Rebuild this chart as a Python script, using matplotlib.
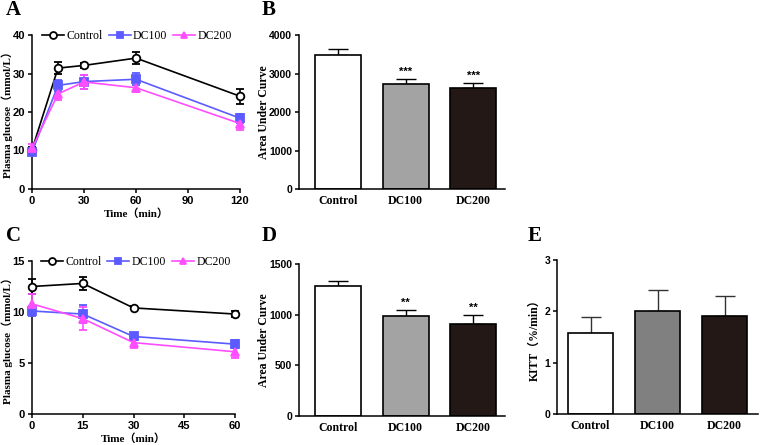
import matplotlib
matplotlib.use("Agg")
import matplotlib.pyplot as plt
from matplotlib.lines import Line2D
import numpy as np

# ---------------- data ----------------
groups = ["Control", "DC100", "DC200"]

ogtt_time = [0, 15, 30, 60, 120]
ogtt_control = [10.2, 31.4, 32.1, 34.0, 24.1]
ogtt_control_err = [0.8, 1.5, 0.7, 1.5, 2.0]
ogtt_dc100 = [9.6, 26.9, 27.9, 28.5, 18.4]
ogtt_dc100_err = [0.8, 1.5, 1.8, 1.6, 1.2]
ogtt_dc200 = [10.6, 24.7, 27.8, 26.3, 17.0]
ogtt_dc200_err = [1.0, 1.6, 1.8, 1.2, 1.7]

ogtt_auc = [3490, 2730, 2615]
ogtt_auc_err = [140, 120, 130]
ogtt_auc_sig = ["", "***", "***"]

itt_time = [0, 15, 30, 60]
itt_control = [12.5, 12.8, 10.4, 9.8]
itt_control_err = [0.75, 0.6, 0.15, 0.3]
itt_dc100 = [10.1, 9.8, 7.6, 6.85]
itt_dc100_err = [0.5, 0.9, 0.3, 0.4]
itt_dc200 = [10.8, 9.35, 7.0, 6.1]
itt_dc200_err = [1.0, 1.1, 0.5, 0.6]

itt_auc = [1280, 990, 905]
itt_auc_err = [52, 56, 92]
itt_auc_sig = ["", "**", "**"]

kitt = [1.57, 2.01, 1.91]
kitt_err = [0.31, 0.41, 0.38]

# ---------------- style ----------------
W, H = 760, 445
fig = plt.figure(figsize=(W / 100, H / 100), dpi=100)

serif = ["Liberation Serif", "Noto Sans CJK SC"]
sans = "Liberation Sans"
c_ctrl = "black"
c_100 = "#5b5bff"
c_200 = "#ff4dff"


def rect(l, t, r, b):
    return [l / W, 1 - b / H, (r - l) / W, (b - t) / H]


def style_axes(ax, tick_size=7.5):
    for s in ["top", "right"]:
        ax.spines[s].set_visible(False)
    for s in ["left", "bottom"]:
        ax.spines[s].set_linewidth(1.1)
    ax.tick_params(direction="out", length=3, width=1.1, pad=2)
    for lab in ax.get_xticklabels() + ax.get_yticklabels():
        lab.set_fontfamily(sans)
        lab.set_fontweight("bold")
        lab.set_fontsize(tick_size)


def line_panel(ax, t, series, xticks, ylim, yticks, xlabel, ylabel, ylab_x, leg_xy):
    specs = [("Control", c_ctrl, "o", "white"),
             ("DC100", c_100, "s", c_100),
             ("DC200", c_200, "^", c_200)]
    handles = []
    for (name, col, mk, fc), (y, e) in zip(specs, series):
        ax.errorbar(t, y, yerr=e, color=col, marker=mk, markersize=5.5,
                    markerfacecolor=fc, markeredgecolor=col, markeredgewidth=1.3,
                    linewidth=1.2, elinewidth=1.2, capsize=3, capthick=1.2,
                    clip_on=False, zorder=3)
        handles.append(Line2D([], [], color=col, marker=mk, markersize=5,
                              markerfacecolor=fc, markeredgecolor=col,
                              markeredgewidth=1.3, linewidth=1.2, label=name))
    ax.set_xlim(t[0], t[-1])
    ax.set_ylim(*ylim)
    ax.set_xticks(xticks)
    ax.set_yticks(yticks)
    ax.set_xlabel(xlabel, fontfamily=serif, fontweight="bold", fontsize=8, labelpad=2)
    ax.set_ylabel(ylabel, fontfamily=serif, fontweight="bold", fontsize=8)
    ax.yaxis.set_label_coords(ylab_x, 0.5)
    style_axes(ax, tick_size=8)
    ax.legend(handles=handles, ncol=3, loc="upper left", bbox_to_anchor=leg_xy,
              frameon=False, handlelength=1.85, handletextpad=0.2, columnspacing=0.5,
              borderpad=0, borderaxespad=0,
              prop={"family": "Liberation Serif", "size": 8.5})


def bar_panel(ax, vals, errs, colors, ylim, yticks, ylabel, sig, ylab_x, ecol="black",
              xlim=(-0.58, 2.47), width=0.68):
    x = np.arange(len(groups))
    ax.bar(x, vals, width=width, color=colors, edgecolor="black", linewidth=1.2, zorder=2)
    ax.errorbar(x, vals, yerr=[np.zeros(len(vals)), errs], fmt="none", ecolor=ecol,
                elinewidth=1.0, capsize=7, capthick=1.0, zorder=1)
    for xi, v, e, s in zip(x, vals, errs, sig):
        if s:
            ax.text(xi, v + e + (ylim[1] - ylim[0]) * 0.015, s, ha="center", va="bottom",
                    fontsize=8, fontweight="bold", fontfamily=sans)
    ax.set_xlim(*xlim)
    ax.set_ylim(*ylim)
    ax.set_yticks(yticks)
    ax.set_xticks(x)
    ax.set_xticklabels(groups)
    ax.set_ylabel(ylabel, fontfamily=serif, fontweight="bold", fontsize=8.5)
    ax.yaxis.set_label_coords(ylab_x, 0.5)
    style_axes(ax, tick_size=7.5)
    ax.tick_params(axis="x", length=0, pad=4)
    for lab in ax.get_xticklabels():
        lab.set_fontfamily("Liberation Serif")
        lab.set_fontsize(8.5)


# Panel A
axA = fig.add_axes(rect(32, 35, 240, 189))
line_panel(axA, ogtt_time,
           [(ogtt_control, ogtt_control_err), (ogtt_dc100, ogtt_dc100_err), (ogtt_dc200, ogtt_dc200_err)],
           [0, 30, 60, 90, 120], (0, 40), [0, 10, 20, 30, 40],
           "Time（min）", "Plasma glucose（mmol/L）", -0.093, (0.05, 1.03))

# Panel B
axB = fig.add_axes(rect(299, 35, 505, 189))
bar_panel(axB, ogtt_auc, ogtt_auc_err, ["white", "#a3a3a3", "#231815"], (0, 4000),
          [0, 1000, 2000, 3000, 4000], "Area Under Curve", ogtt_auc_sig, -0.14)

# Panel C
axC = fig.add_axes(rect(32, 261, 235, 414))
line_panel(axC, itt_time,
           [(itt_control, itt_control_err), (itt_dc100, itt_dc100_err), (itt_dc200, itt_dc200_err)],
           [0, 15, 30, 45, 60], (0, 15), [0, 5, 10, 15],
           "Time（min）", "Plasma glucose（mmol/L）", -0.095, (0.045, 1.035))

# Panel D
axD = fig.add_axes(rect(299, 264, 505, 416))
bar_panel(axD, itt_auc, itt_auc_err, ["white", "#a3a3a3", "#231815"], (0, 1500),
          [0, 500, 1000, 1500], "Area Under Curve", itt_auc_sig, -0.14)

# Panel E
axE = fig.add_axes(rect(557, 260, 758, 414))
bar_panel(axE, kitt, kitt_err, ["white", "#808080", "#231815"], (0, 3),
          [0, 1, 2, 3], "KITT（%/min）", ["", "", ""], -0.08, ecol="#333333",
          xlim=(-0.5, 2.5), width=0.67)

# panel letters
for letter, (px, py) in {"A": (6, 10), "B": (262, 10), "C": (6, 236), "D": (262, 236), "E": (528, 236)}.items():
    fig.text(px / W, 1 - py / H, letter, fontfamily="Liberation Serif", fontweight="bold",
             fontsize=15, ha="left", va="center")

fig.savefig("out.png", dpi=100)
